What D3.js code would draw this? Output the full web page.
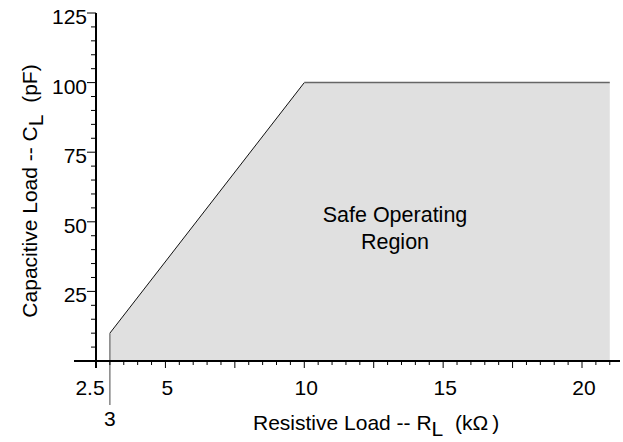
<!DOCTYPE html>
<html>
<head>
<meta charset="utf-8">
<script src="https://cdn.jsdelivr.net/npm/d3@7"></script>
<style>
  body { margin: 0; background: #fff; }
  text { font-family: "Liberation Sans", Arial, sans-serif; fill: #000; }
</style>
</head>
<body>
<div id="chart"></div>
<script>
// safe operating boundary (R in kOhm, C in pF)
const boundaryR = [3, 3, 10, 21, 21];
const boundaryC = [0, 10, 100, 100, 0];

const xMajor = [2.5, 5, 7.5, 10, 12.5, 15, 17.5, 20];
const xLabels = [2.5, 5, 10, 15, 20];
const yMajor = [25, 50, 75, 100, 125];
const yLabels = [25, 50, 75, 100, 125];
const minR = 3;

const width = 623, height = 442;

const svg = d3.select("#chart")
    .append("svg")
    .attr("width", width)
    .attr("height", height);

const x = d3.scaleLinear()
    .domain([2.5, 20])
    .range([96, 582]);

const y = d3.scaleLinear()
    .domain([0, 125])
    .range([361, 13]);

const xMinor = d3.range(3, 21.01, 0.5).filter(v => !xMajor.includes(v));
const yMinor = d3.range(5, 125, 5).filter(v => !yMajor.includes(v));

// shaded region
const pts = boundaryR.map((r, i) => [x(r), y(boundaryC[i])]);
svg.append("path")
    .attr("d", d3.line()(pts) + "Z")
    .attr("fill", "#e0e0e0")
    .attr("stroke", "none");

// slanted edge
svg.append("path")
    .attr("d", d3.line()(pts.slice(1, 3)))
    .attr("fill", "none")
    .attr("stroke", "#111")
    .attr("stroke-width", 1);

// top edge
svg.append("path")
    .attr("d", d3.line()(pts.slice(2, 4)))
    .attr("fill", "none")
    .attr("stroke", "#666")
    .attr("stroke-width", 1.5);

// left edge, drops below the axis to the "3" marker
svg.append("line")
    .attr("x1", x(minR)).attr("x2", x(minR))
    .attr("y1", y(10)).attr("y2", y(0) + 44)
    .attr("stroke", "#666")
    .attr("stroke-width", 1.2);

svg.append("text")
    .attr("x", x(minR))
    .attr("y", y(0) + 65)
    .attr("text-anchor", "middle")
    .style("font-size", "21px")
    .text(minR);

// x axis
const xAxis = svg.append("g");
xAxis.append("line")
    .attr("x1", 74).attr("x2", 620)
    .attr("y1", y(0)).attr("y2", y(0))
    .attr("stroke", "#000").attr("stroke-width", 2);
xAxis.selectAll(".xmin")
    .data(xMinor)
    .enter().append("line")
    .attr("x1", d => x(d)).attr("x2", d => x(d))
    .attr("y1", y(0)).attr("y2", y(0) + 4)
    .attr("stroke", "#000").attr("stroke-width", 1);
xAxis.selectAll(".xmaj")
    .data(xMajor)
    .enter().append("line")
    .attr("x1", d => x(d)).attr("x2", d => x(d))
    .attr("y1", y(0)).attr("y2", y(0) + 7)
    .attr("stroke", "#000").attr("stroke-width", d => d === 2.5 ? 2 : 1);
xAxis.selectAll(".xlab")
    .data(xLabels)
    .enter().append("text")
    .attr("x", d => x(d) + (d === 2.5 ? -6 : 2))
    .attr("y", y(0) + 34)
    .attr("text-anchor", "middle")
    .style("font-size", "21px")
    .text(d => d);

// y axis
const yAxis = svg.append("g");
yAxis.append("line")
    .attr("x1", x(2.5)).attr("x2", x(2.5))
    .attr("y1", y(125)).attr("y2", y(0) + 7)
    .attr("stroke", "#000").attr("stroke-width", 2);
yAxis.selectAll(".ymin")
    .data(yMinor)
    .enter().append("line")
    .attr("x1", x(2.5) - 5).attr("x2", x(2.5))
    .attr("y1", d => y(d)).attr("y2", d => y(d))
    .attr("stroke", "#000").attr("stroke-width", 1);
yAxis.selectAll(".ymaj")
    .data(yMajor)
    .enter().append("line")
    .attr("x1", x(2.5) - 9).attr("x2", x(2.5))
    .attr("y1", d => y(d)).attr("y2", d => y(d))
    .attr("stroke", "#000").attr("stroke-width", 1);
yAxis.selectAll(".ylab")
    .data(yLabels)
    .enter().append("text")
    .attr("x", x(2.5) - 9)
    .attr("y", d => y(d) + 11)
    .attr("text-anchor", "end")
    .style("font-size", "21px")
    .text(d => d);

// region label
const mid = svg.append("text")
    .attr("text-anchor", "middle")
    .style("font-size", "21.5px");
mid.append("tspan").attr("x", 395).attr("y", 222).text("Safe Operating");
mid.append("tspan").attr("x", 395).attr("y", 249).text("Region");

// axis titles
const xt = svg.append("text")
    .attr("x", 253)
    .attr("y", 430)
    .style("font-size", "21px");
xt.append("tspan").text("Resistive Load -- R");
xt.append("tspan").attr("dy", 6).text("L");
xt.append("tspan").attr("dy", -6).text("\u00a0\u00a0(k\u03a9\u2009)");

const yt = svg.append("text")
    .attr("transform", "translate(37,191) rotate(-90)")
    .attr("text-anchor", "middle")
    .style("font-size", "21px");
yt.append("tspan").text("Capacitive Load -- C");
yt.append("tspan").attr("dy", 6).text("L");
yt.append("tspan").attr("dy", -6).text("\u00a0\u00a0(pF)");
</script>
</body>
</html>
